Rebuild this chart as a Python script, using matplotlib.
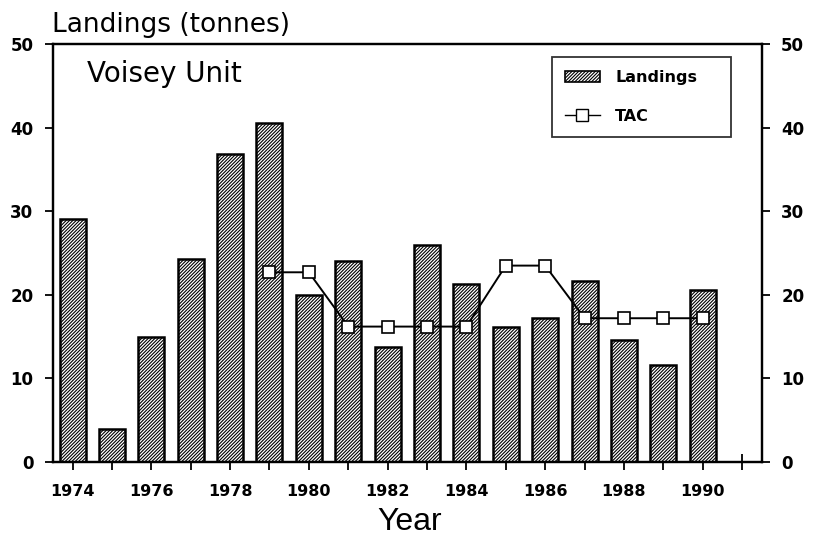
import matplotlib
matplotlib.use("Agg")
import matplotlib.pyplot as plt
from matplotlib.lines import Line2D
from matplotlib.patches import Patch

plt.rcParams['font.family'] = ['DejaVu Sans']
plt.rcParams['hatch.linewidth'] = 0.8

years = list(range(1974, 1991))
landings = [29.1, 3.9, 14.9, 24.3, 36.8, 40.6, 20.0, 24.1, 13.7, 26.0, 21.3, 16.1, 17.2, 21.7, 14.6, 11.6, 20.6]
tac_years = list(range(1979, 1991))
tac = [22.7, 22.7, 16.2, 16.2, 16.2, 16.2, 23.5, 23.5, 17.2, 17.2, 17.2, 17.2]
xtick_labels = ['1974', '1976', '1978', '1980', '1982', '1984', '1986', '1988', '1990']
ytick_vals = [0, 10, 20, 30, 40, 50]

HATCH = '//////////'

fig = plt.figure(figsize=(8.13, 5.46), dpi=100)
ax = fig.add_axes([0.065, 0.154, 0.872, 0.765])

ax.bar(years, landings, width=0.66, color='white', edgecolor='black', linewidth=1.8,
       hatch=HATCH, zorder=2)
ax.plot(tac_years, tac, color='black', linewidth=1.4, marker='s', markersize=8.5,
        markerfacecolor='white', markeredgecolor='black', markeredgewidth=1.2, zorder=3)

ax.set_xlim(1973.5, 1991.5)
ax.set_ylim(0, 50)
ticks = list(range(1974, 1992))
ax.set_xticks(ticks)
lab_map = {int(t): t for t in xtick_labels}
ax.set_xticklabels([lab_map.get(y, '') for y in ticks], fontsize=11.5, fontweight='bold')
ax.set_yticks(ytick_vals)
ax.set_yticklabels([str(v) for v in ytick_vals], fontsize=12, fontweight='bold')
ax.tick_params(axis='x', direction='inout', length=12, width=1.3, pad=10)
ax.tick_params(axis='y', direction='out', length=6, width=1.3, pad=8)
for s in ax.spines.values():
    s.set_linewidth(1.6)

ax2 = ax.twinx()
ax2.set_ylim(0, 50)
ax2.set_yticks(ytick_vals)
ax2.set_yticklabels([str(v) for v in ytick_vals], fontsize=12, fontweight='bold')
ax2.tick_params(axis='y', direction='out', length=6, width=1.3, pad=8)
for s in ax2.spines.values():
    s.set_linewidth(1.6)

fig.text(0.064, 0.941, 'Landings (tonnes)', fontsize=19, va='baseline', ha='left')
ax.text(0.048, 0.91, 'Voisey Unit', transform=ax.transAxes, fontsize=20, va='baseline', ha='left')
fig.text(0.504, 0.029, 'Year', fontsize=23, va='baseline', ha='center',
         family=['Liberation Sans', 'DejaVu Sans'])

handles = [Patch(facecolor='white', edgecolor='black', hatch=HATCH, linewidth=1.2),
           Line2D([], [], color='black', linewidth=1.0, marker='s', markersize=8,
                  markerfacecolor='white', markeredgecolor='black')]
leg = ax2.legend(handles, ['Landings', 'TAC'], loc='upper left',
                 bbox_to_anchor=(0.704, 0.770, 0.2525, 0.199), mode='expand',
                 borderaxespad=0, frameon=True, fancybox=False, edgecolor='black',
                 prop={'size': 11.5, 'weight': 'bold'},
                 borderpad=0.8, labelspacing=1.5, handlelength=2.2, handletextpad=0.95)
leg.get_frame().set_linewidth(1.3)

fig.savefig('out.png', dpi=100)
